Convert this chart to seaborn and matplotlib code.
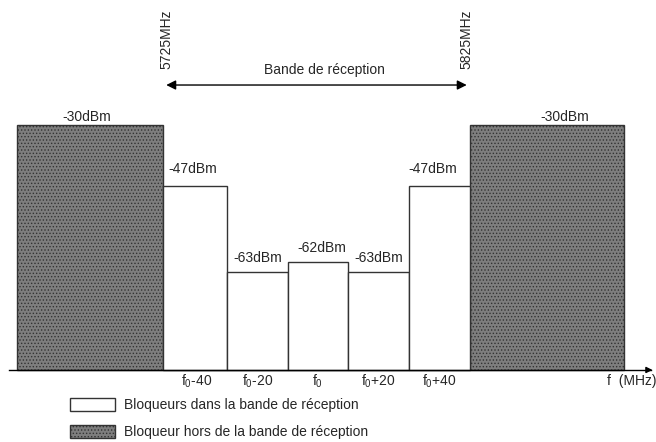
import matplotlib
matplotlib.use('Agg')
import matplotlib.pyplot as plt
import matplotlib.patches as mpatches
import seaborn as sns

# Données du schéma (fréquences en MHz par rapport à f0)
inband_edges = [-51, -30, -10, 10, 30, 50]
inband_level = [75, 40, 44, 40, 75]          # hauteur dessinée (schématique)
inband_dbm = ['-47dBm', '-63dBm', '-62dBm', '-63dBm', '-47dBm']

outband_edges = [-99.5, -51, 50, 101]
outband_level = [100, 0, 100]
outband_dbm = ['-30dBm', '', '-30dBm']

tick_pos = [-40, -20, 0, 20, 40]
tick_labels = [r'$\mathregular{f_0}$-40', r'$\mathregular{f_0}$-20', r'$\mathregular{f_0}$',
               r'$\mathregular{f_0}$+20', r'$\mathregular{f_0}$+40']
band_labels = ['5725MHz', '5825MHz']

sns.set_theme(style='white')
plt.rcParams['font.family'] = ['Liberation Sans', 'DejaVu Sans']
plt.rcParams['mathtext.fontset'] = 'custom'
plt.rcParams['mathtext.rm'] = 'Liberation Sans'
plt.rcParams['hatch.color'] = '#e6e6e6'
plt.rcParams['hatch.linewidth'] = 0.6

GRIS = '#7e7e7e'

fig = plt.figure(figsize=(6.56, 4.42), dpi=100)
ax = fig.add_axes([0, 0, 1, 1])

def centers(edges):
    return [(a + b) / 2 for a, b in zip(edges[:-1], edges[1:])]

# blocs hors bande
sns.histplot(x=centers(outband_edges), weights=outband_level, bins=outband_edges,
             color=GRIS, edgecolor='#333333', linewidth=1, alpha=1,
             hatch='.....', ax=ax)
# bloqueurs dans la bande
sns.histplot(x=centers(inband_edges), weights=inband_level, bins=inband_edges,
             color='white', edgecolor='#333333', linewidth=1, alpha=1, ax=ax)

ax.set_xlim(-104.95, 111.55)
ax.set_ylim(-29.4, 151)

# étiquettes dBm (décalages en points pour suivre le schéma)
out_dx = [-2, 0, 13]
for c, h, t, dx in zip(centers(outband_edges), outband_level, outband_dbm, out_dx):
    ax.annotate(t, (c, h), xytext=(dx, 1), textcoords='offset points',
                ha='center', va='bottom', fontsize=10)
in_dx = [-2, 0, 3, 0, -5]
in_dy = [7, 5, 5, 5, 7]
for c, h, t, dx, dy in zip(centers(inband_edges), inband_level, inband_dbm, in_dx, in_dy):
    ax.annotate(t, (c, h), xytext=(dx, dy), textcoords='offset points',
                ha='center', va='bottom', fontsize=10)

# axe des fréquences
for s in ['top', 'left', 'right']:
    ax.spines[s].set_visible(False)
ax.spines['bottom'].set_position(('data', 0))
ax.spines['bottom'].set_bounds(-102, 110)
ax.spines['bottom'].set_color('black')
ax.spines['bottom'].set_linewidth(1)
ax.set_yticks([])
ax.set_xticks(tick_pos, tick_labels)
ax.tick_params(axis='x', direction='in', length=7, width=1, color='#2020ff',
               labelsize=10, pad=2, bottom=True)
ax.set_xlabel('')
ax.set_ylabel('')
ax.annotate('', xy=(111.3, 0), xytext=(108, 0),
            arrowprops=dict(arrowstyle='-|>', color='black', lw=1, mutation_scale=9))
ax.text(103.5, -4.5, 'f  (MHz)', ha='center', va='center', fontsize=10)

# bande de réception
ax.annotate('', xy=(inband_edges[0], 116.3), xytext=(inband_edges[-1], 116.3),
            arrowprops=dict(arrowstyle='<|-|>', color='black', lw=1, mutation_scale=14))
ax.text(2, 122.5, 'Bande de réception', ha='center', va='center', fontsize=10)
for x, t in zip([inband_edges[0] + 1, inband_edges[-1] - 1], band_labels):
    ax.text(x, 123, t, rotation=90, ha='center', va='bottom', fontsize=10)

# légende
handles = [mpatches.Patch(facecolor='white', edgecolor='#333333', linewidth=1),
           mpatches.Patch(facecolor=GRIS, edgecolor='#333333', linewidth=1,
                          hatch='.....')]
fig.legend(handles, ['Bloqueurs dans la bande de réception',
                     'Bloqueur hors de la bande de réception'],
           loc='upper left', bbox_to_anchor=(0.106, 0.099), frameon=False,
           fontsize=10, handlelength=3.3, handleheight=1.0, labelspacing=0.95,
           handletextpad=0.65, borderpad=0, borderaxespad=0)

fig.savefig('out.png', dpi=100)
